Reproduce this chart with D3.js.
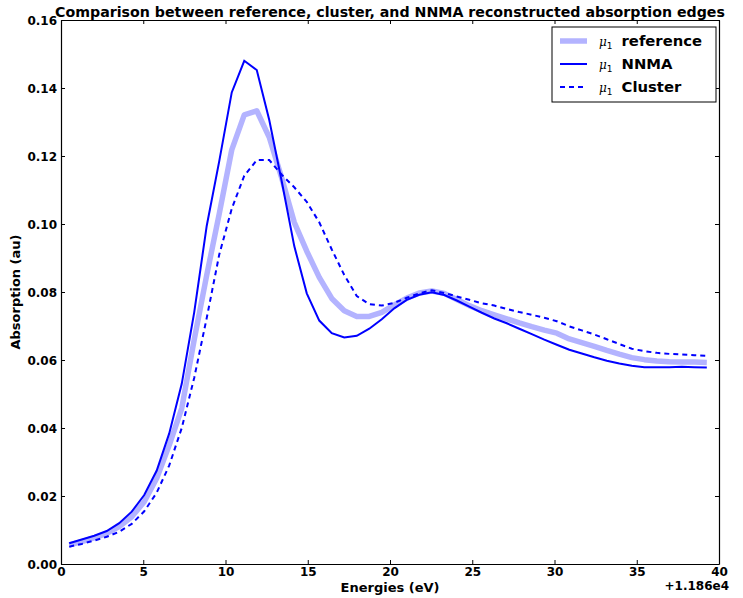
<!DOCTYPE html>
<html>
<head>
<meta charset="utf-8">
<script src="https://cdn.jsdelivr.net/npm/d3@7/dist/d3.min.js"></script>
<style>
  html, body { margin: 0; padding: 0; background: #fff; }
  svg { display: block; font-family: "DejaVu Sans", sans-serif; }
</style>
</head>
<body>
<svg id="chart" width="743" height="598"></svg>
<script>
// Energy grid (eV, offset from 11860 eV)
const energies = d3.range(52).map(i => +(0.5 + 0.76 * i).toFixed(2));

// Reference absorption edge
const referenceMu = [
  0.0056, 0.0066, 0.0077, 0.0090, 0.0110, 0.0139, 0.0183, 0.0252, 0.0350, 0.0458,
  0.0660, 0.0850, 0.1030, 0.1218, 0.1321, 0.1333, 0.1255, 0.1135, 0.1005, 0.0920,
  0.0843, 0.0781, 0.0745, 0.0728, 0.0728, 0.0740, 0.0762, 0.0782, 0.0797, 0.0803,
  0.0796, 0.0778, 0.0760, 0.0745, 0.0733, 0.0721, 0.0709, 0.0698, 0.0688, 0.0679,
  0.0662, 0.0651, 0.0640, 0.0628, 0.0617, 0.0607, 0.0601, 0.0597, 0.0595, 0.0594,
  0.0594, 0.0593
];

// NNMA reconstruction
const nnmaMu = [
  0.0061, 0.0072, 0.0083, 0.0097, 0.0120, 0.0154, 0.0203, 0.0275, 0.0384, 0.0530,
  0.0741, 0.0995, 0.1185, 0.1387, 0.1480, 0.1453, 0.1306, 0.1125, 0.0935, 0.0796,
  0.0716, 0.0679, 0.0666, 0.0671, 0.0692, 0.0720, 0.0752, 0.0777, 0.0792, 0.0799,
  0.0791, 0.0775, 0.0757, 0.0739, 0.0722, 0.0708, 0.0692, 0.0676, 0.0660, 0.0645,
  0.0630, 0.0619, 0.0608, 0.0598, 0.0590, 0.0583, 0.0579, 0.0579, 0.0579, 0.0580,
  0.0579, 0.0578
];

// Cluster reconstruction
const clusterMu = [
  0.0051, 0.0059, 0.0069, 0.0080, 0.0095, 0.0118, 0.0155, 0.0210, 0.0290, 0.0400,
  0.0548, 0.0724, 0.0910, 0.1045, 0.1142, 0.1188, 0.1188, 0.1145, 0.1108, 0.1065,
  0.1005, 0.0925, 0.0850, 0.0788, 0.0764, 0.0760, 0.0768, 0.0783, 0.0796, 0.0805,
  0.0797, 0.0787, 0.0777, 0.0767, 0.0760, 0.0750, 0.0741, 0.0733, 0.0724, 0.0714,
  0.0699, 0.0687, 0.0675, 0.0661, 0.0647, 0.0633, 0.0626, 0.0621, 0.0618, 0.0616,
  0.0614, 0.0612
];

const xTicks = [0, 5, 10, 15, 20, 25, 30, 35, 40];
const yTicks = [0, 0.02, 0.04, 0.06, 0.08, 0.10, 0.12, 0.14, 0.16];

const titleText = "Comparison between reference, cluster, and NNMA reconstructed absorption edges";
const xLabel = "Energies (eV)";
const yLabel = "Absorption (au)";
const xOffsetText = "+1.186e4";
const seriesNames = ["reference", "NNMA", "Cluster"];

const svg = d3.select("#chart");
const margin = { left: 61, right: 24, top: 20, bottom: 34 };
const W = 743, H = 598;

const x = d3.scaleLinear().domain([0, 40]).range([margin.left, W - margin.right]);
const y = d3.scaleLinear().domain([0, 0.16]).range([H - margin.bottom, margin.top]);

const plotW = x.range()[1] - x.range()[0];
const plotH = y.range()[0] - y.range()[1];

// Clip the curves to the axes box
svg.append("defs").append("clipPath").attr("id", "plotclip")
  .append("rect").attr("x", margin.left).attr("y", margin.top)
  .attr("width", plotW).attr("height", plotH);

const line = d3.line().x(d => x(d[0])).y(d => y(d[1]));
const zip = vals => energies.map((e, i) => [e, vals[i]]);

const curves = svg.append("g").attr("clip-path", "url(#plotclip)");
curves.append("path").datum(zip(referenceMu)).attr("d", line)
  .attr("fill", "none").attr("stroke", "#b3b3ff").attr("stroke-width", 5.5)
  .attr("stroke-linejoin", "round");
curves.append("path").datum(zip(nnmaMu)).attr("d", line)
  .attr("fill", "none").attr("stroke", "#0000ff").attr("stroke-width", 2);
curves.append("path").datum(zip(clusterMu)).attr("d", line)
  .attr("fill", "none").attr("stroke", "#0000ff").attr("stroke-width", 2)
  .attr("stroke-dasharray", "5,4");

// Axes: inward ticks on all four sides
const tickFont = "bold 12px 'DejaVu Sans'";
const axB = svg.append("g").attr("transform", `translate(0,${y.range()[0]})`)
  .call(d3.axisBottom(x).tickValues(xTicks).tickSizeInner(-4).tickSizeOuter(0).tickPadding(3)
    .tickFormat(d3.format("d")));
const axT = svg.append("g").attr("transform", `translate(0,${y.range()[1]})`)
  .call(d3.axisTop(x).tickValues(xTicks).tickSizeInner(-4).tickSizeOuter(0).tickFormat(""));
const axL = svg.append("g").attr("transform", `translate(${x.range()[0]},0)`)
  .call(d3.axisLeft(y).tickValues(yTicks).tickSizeInner(-4).tickSizeOuter(0).tickPadding(4)
    .tickFormat(d3.format(".2f")));
const axR = svg.append("g").attr("transform", `translate(${x.range()[1]},0)`)
  .call(d3.axisRight(y).tickValues(yTicks).tickSizeInner(-4).tickSizeOuter(0).tickFormat(""));

[axB, axT, axL, axR].forEach(g => {
  g.select(".domain").attr("stroke", "#000").attr("stroke-width", 1.2);
  g.selectAll(".tick line").attr("stroke", "#000").attr("stroke-width", 1);
  g.selectAll(".tick text").style("font", tickFont).attr("fill", "#000");
});
axL.selectAll(".tick text").attr("dy", "0.35em");

// Titles and axis labels
svg.append("text").attr("x", (x.range()[0] + x.range()[1]) / 2).attr("y", 17)
  .attr("text-anchor", "middle").style("font", "bold 14.2px 'DejaVu Sans'")
  .text(titleText);
svg.append("text").attr("x", (x.range()[0] + x.range()[1]) / 2).attr("y", 592)
  .attr("text-anchor", "middle").style("font", "bold 13px 'DejaVu Sans'")
  .text(xLabel);
svg.append("text").attr("transform", `translate(20,${(y.range()[0] + y.range()[1]) / 2}) rotate(-90)`)
  .attr("text-anchor", "middle").style("font", "bold 13px 'DejaVu Sans'")
  .text(yLabel);
svg.append("text").attr("x", 729).attr("y", 590)
  .attr("text-anchor", "end").style("font", "bold 12px 'DejaVu Sans'")
  .text(xOffsetText);

// Legend
const legend = svg.append("g").attr("transform", "translate(552,27)");
legend.append("rect").attr("width", 164).attr("height", 75)
  .attr("fill", "#fff").attr("stroke", "#000").attr("stroke-width", 1);
const legendStyles = [
  { stroke: "#b3b3ff", width: 5.5, dash: null },
  { stroke: "#0000ff", width: 2, dash: null },
  { stroke: "#0000ff", width: 2, dash: "5,4" }
];
seriesNames.forEach((name, i) => {
  const cy = 14 + i * 23;
  const st = legendStyles[i];
  const ln = legend.append("line").attr("x1", 8).attr("x2", 35).attr("y1", cy).attr("y2", cy)
    .attr("stroke", st.stroke).attr("stroke-width", st.width);
  if (st.dash) ln.attr("stroke-dasharray", st.dash);
  const t = legend.append("text").attr("x", 47).attr("y", cy + 5);
  t.append("tspan").style("font", "italic 12px 'DejaVu Serif'").text("μ");
  t.append("tspan").style("font", "9px 'DejaVu Sans'").attr("dy", 3).text("1");
  t.append("tspan").style("font", "bold 14.8px 'DejaVu Sans'").attr("dy", -3).attr("dx", 9).text(name);
});
</script>
</body>
</html>
